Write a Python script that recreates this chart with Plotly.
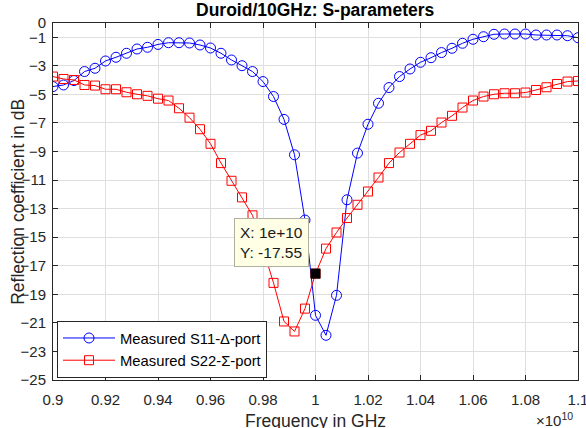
import plotly.graph_objects as go

# Frequency (x 1e10 Hz)
freq = [0.900, 0.904, 0.908, 0.912, 0.916, 0.920, 0.924, 0.928, 0.932, 0.936,
        0.940, 0.944, 0.948, 0.952, 0.956, 0.960, 0.964, 0.968, 0.972, 0.976,
        0.980, 0.984, 0.988, 0.992, 0.996, 1.000, 1.004, 1.008, 1.012, 1.016,
        1.020, 1.024, 1.028, 1.032, 1.036, 1.040, 1.044, 1.048, 1.052, 1.056,
        1.060, 1.064, 1.068, 1.072, 1.076, 1.080, 1.084, 1.088, 1.092, 1.096,
        1.100]

s11 = [-4.45, -4.34, -4.03, -3.40, -3.17, -2.66, -2.40, -2.12, -1.82, -1.70,
       -1.50, -1.38, -1.38, -1.40, -1.54, -1.75, -2.12, -2.59, -2.99, -3.40,
       -4.10, -5.15, -6.75, -9.23, -13.80, -20.47, -21.87, -19.07, -12.38, -9.11,
       -7.09, -5.62, -4.52, -3.75, -3.22, -2.75, -2.43, -2.07, -1.77, -1.42,
       -1.14, -0.96, -0.79, -0.77, -0.77, -0.77, -0.84, -0.84, -0.84, -0.89,
       -1.03]

s22 = [-3.75, -3.92, -3.99, -4.34, -4.38, -4.64, -4.64, -4.85, -4.99, -5.10,
       -5.30, -5.43, -5.97, -6.63, -7.44, -8.46, -9.81, -11.05, -12.21, -13.47,
       -15.80, -18.20, -20.90, -21.60, -20.00, -17.55, -15.80, -14.67, -13.66, -12.73,
       -11.80, -10.82, -9.81, -9.07, -8.46, -7.85, -7.55, -6.97, -6.50, -5.92,
       -5.43, -5.15, -4.99, -4.92, -4.92, -4.87, -4.69, -4.50, -4.27, -4.10,
       -4.06]

names = ["Measured S11-\u0394-port", "Measured S22-\u03a3-port"]

x_ticks = [0.90, 0.92, 0.94, 0.96, 0.98, 1.00, 1.02, 1.04, 1.06, 1.08, 1.10]
x_ticktext = ["0.9", "0.92", "0.94", "0.96", "0.98", "1", "1.02", "1.04", "1.06", "1.08", "1.1"]
y_ticks = [0, -1, -3, -5, -7, -9, -11, -13, -15, -17, -19, -21, -23, -25]

tip_x = [1.0]
tip_y = [-17.55]

FONT = "Liberation Sans, Arial, Helvetica, sans-serif"
AX = "#262626"
GRID = "#dfdfdf"

fig = go.Figure()
fig.add_trace(go.Scatter(
    x=freq, y=s11, name=names[0], mode="lines+markers",
    line=dict(color="#0000ff", width=1),
    marker=dict(symbol="circle-open", size=10, color="#0000ff", line=dict(width=1, color="#0000ff")),
))
fig.add_trace(go.Scatter(
    x=freq, y=s22, name=names[1], mode="lines+markers",
    line=dict(color="#ff0000", width=1),
    marker=dict(symbol="square-open", size=9, color="#ff0000", line=dict(width=1, color="#ff0000")),
))
fig.add_trace(go.Scatter(
    x=tip_x, y=tip_y, mode="markers", showlegend=False,
    marker=dict(symbol="square", size=10, color="black"),
))

fig.add_annotation(
    x=tip_x[0], y=tip_y[0], xref="x", yref="y",
    text="X: %g<br>Y: %.2f" % (tip_x[0] * 1e10, tip_y[0]),
    showarrow=False, xanchor="right", yanchor="bottom", xshift=-7, yshift=7,
    align="left", bgcolor="#ffffe6", bordercolor="#b0b0a0", borderwidth=1, borderpad=5,
    font=dict(family=FONT, size=15.5, color="#1a1a1a"),
)

fig.add_annotation(
    text="<b>Duroid/10GHz: S-parameters</b>", x=0.5, y=1.036, xref="paper", yref="paper",
    showarrow=False, xanchor="center", yanchor="middle",
    font=dict(family=FONT, size=17.5, color="#000000"),
)
fig.add_annotation(
    text="Frequency in GHz", x=0.5, y=-0.114, xref="paper", yref="paper",
    showarrow=False, xanchor="center", yanchor="middle", font=dict(family=FONT, size=17.5, color=AX),
)
fig.add_annotation(
    text="Reflection coefficient in dB", x=-0.068, y=0.5, xref="paper", yref="paper",
    textangle=-90, showarrow=False, xanchor="center", yanchor="middle",
    font=dict(family=FONT, size=17.5, color=AX),
)
fig.add_annotation(
    text="\u00d710<sup>10</sup>", x=0.955, y=-0.112, xref="paper", yref="paper",
    showarrow=False, xanchor="center", yanchor="middle", font=dict(family=FONT, size=15, color=AX),
)

fig.update_xaxes(
    range=[0.9, 1.1], tickvals=x_ticks, ticktext=x_ticktext,
    ticks="inside", ticklen=5, tickcolor=AX, mirror="ticks",
    showline=True, linecolor=AX, linewidth=1,
    showgrid=True, gridcolor=GRID, gridwidth=1, zeroline=False,
    tickfont=dict(family=FONT, size=15, color=AX), ticklabelstandoff=6,
    ticklabeloverflow="allow", automargin=False,
)
fig.update_yaxes(
    range=[-25, 0], tickvals=y_ticks,
    ticks="inside", ticklen=5, tickcolor=AX, mirror="ticks",
    showline=True, linecolor=AX, linewidth=1,
    showgrid=True, gridcolor=GRID, gridwidth=1, zeroline=False,
    tickfont=dict(family=FONT, size=15, color=AX), ticklabelstandoff=3,
    ticklabeloverflow="allow", automargin=False,
)

fig.update_layout(
    width=586, height=428,
    margin=dict(l=53, r=8, t=23, b=48),
    plot_bgcolor="white", paper_bgcolor="white",
    font=dict(family=FONT, size=15, color=AX),
    legend=dict(
        x=0.0076, y=0.006, xanchor="left", yanchor="bottom",
        bgcolor="white", bordercolor=AX, borderwidth=1,
        font=dict(family=FONT, size=14.8, color="#000000"),
        itemwidth=52, tracegroupgap=0,
    ),
    showlegend=True,
)

fig.write_html("out.html")
